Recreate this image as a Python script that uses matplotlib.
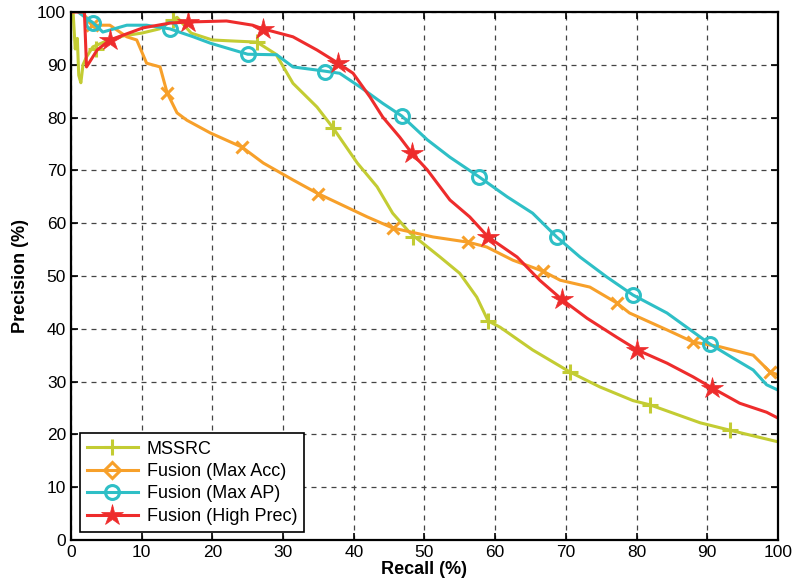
import numpy as np
import matplotlib
matplotlib.use('Agg')
import matplotlib.pyplot as plt
from matplotlib.lines import Line2D

plt.rcParams['font.family'] = ['Liberation Sans', 'DejaVu Sans']

# MSSRC
mssrc_x = [0.3, 0.6, 0.9, 1.1, 1.4, 1.7, 2.2, 3.1, 5.0, 7.5, 10.0, 12.5, 15.0, 17.0, 20.0, 23.0, 26.3,
           29.0, 31.4, 34.8, 37.1, 40.5, 43.3, 45.5, 48.0, 52.2, 55.0, 57.4, 59.0, 60.7, 65.3,
           70.6, 74.8, 79.5, 81.9, 89.0, 93.2, 100.0]
mssrc_y = [100.0, 93.0, 95.0, 88.0, 86.6, 90.0, 91.5, 93.4, 94.5, 95.5, 96.0, 96.8, 99.0, 96.0, 94.7, 94.5,
           94.3, 92.0, 86.5, 82.0, 78.0, 71.4, 66.9, 61.9, 58.1, 53.6, 50.5, 46.0, 41.5, 40.3, 36.0,
           31.8, 29.0, 26.4, 25.6, 22.2, 20.8, 18.6]
mssrc_mx = [3.5, 14.5, 26.3, 37.1, 48.4, 59.0, 70.6, 81.9, 93.2]
mssrc_my = [93.0, 98.5, 94.3, 78.0, 57.4, 41.5, 31.8, 25.6, 20.8]

# Fusion (Max Acc)
acc_x = [1.5, 2.5, 3.0, 5.5, 7.9, 9.3, 10.7, 12.6, 13.6, 15.0, 16.4, 19.7, 24.2, 27.2, 31.4, 34.8,
         41.9, 45.5, 51.2, 56.2, 58.8, 62.5, 66.8, 69.2, 73.4, 77.2, 79.0, 84.3, 88.0, 91.8,
         96.5, 98.9, 100.0]
acc_y = [100.0, 98.5, 97.5, 97.5, 95.3, 94.7, 90.3, 89.6, 84.7, 80.9, 79.5, 77.1, 74.4, 71.4, 68.2, 65.7,
         61.2, 59.1, 57.4, 56.4, 55.5, 53.0, 50.9, 49.2, 47.9, 44.9, 43.0, 39.8, 37.5, 36.6,
         35.0, 31.8, 31.3]
acc_mx = [3.0, 13.6, 24.2, 35.0, 45.5, 56.2, 66.7, 77.2, 88.0, 98.9]
acc_my = [97.5, 84.7, 74.4, 65.6, 59.1, 56.4, 51.0, 44.9, 37.5, 31.8]

# Fusion (Max AP)
ap_x = [1.0, 2.0, 3.1, 4.5, 7.9, 10.7, 14.0, 17.3, 19.7, 25.0, 29.1, 31.4, 34.8, 38.0, 40.9, 44.1,
        46.8, 50.4, 53.6, 57.7, 61.7, 65.3, 68.7, 72.0, 75.8, 79.5, 84.3, 90.4, 93.6, 96.5,
        98.4, 100.0]
ap_y = [100.0, 99.0, 98.0, 96.2, 97.5, 97.5, 96.8, 95.3, 94.1, 92.0, 91.9, 89.6, 89.0, 88.4, 85.8, 82.7,
        80.3, 75.8, 72.5, 68.8, 65.0, 61.9, 57.4, 53.6, 49.8, 46.4, 43.0, 37.1, 34.5, 32.2,
        29.4, 28.4]
ap_mx = [3.1, 14.0, 25.0, 35.9, 46.8, 57.7, 68.7, 79.5, 90.4]
ap_my = [98.0, 96.8, 92.0, 88.6, 80.3, 68.8, 57.4, 46.4, 37.1]

# Fusion (High Prec)
hp_x = [0.3, 1.9, 2.2, 3.7, 5.5, 10.2, 14.0, 16.5, 22.0, 25.7, 27.2, 31.4, 34.8, 37.8, 39.9, 42.3,
        44.1, 46.5, 48.2, 50.4, 53.6, 56.4, 59.0, 63.1, 66.3, 69.4, 73.0, 77.2, 80.1, 84.3,
        88.0, 90.7, 94.6, 98.4, 100.0]
hp_y = [100.0, 100.0, 89.6, 92.8, 94.7, 97.0, 97.9, 98.1, 98.3, 97.5, 96.8, 95.3, 92.8, 90.3, 88.4, 83.9,
        80.1, 76.3, 73.3, 70.1, 64.4, 61.2, 57.4, 53.6, 49.2, 45.6, 42.0, 38.4, 36.0, 33.5,
        30.9, 28.8, 25.9, 24.2, 23.1]
hp_mx = [5.5, 16.5, 27.2, 37.8, 48.2, 59.0, 69.4, 80.1, 90.7]
hp_my = [94.7, 98.1, 96.8, 90.3, 73.3, 57.4, 45.6, 36.0, 28.8]

c_mssrc = '#c3cc33'
c_acc = '#f7a02a'
c_ap = '#2ebfc6'
c_hp = '#ee2c2c'

fig = plt.figure(figsize=(7.93, 5.88), dpi=100)
ax = fig.add_axes([0.0895, 0.0816, 0.8915, 0.898])

ax.plot(mssrc_x, mssrc_y, '-', color=c_mssrc, lw=2.2)
ax.plot(mssrc_mx, mssrc_my, '+', color=c_mssrc, ms=11, mew=2.2)
ax.plot(acc_x, acc_y, '-', color=c_acc, lw=2.2)
ax.plot(acc_mx, acc_my, 'x', color=c_acc, ms=8, mew=2.2)
ax.plot(ap_x, ap_y, '-', color=c_ap, lw=2.2)
ax.plot(ap_mx, ap_my, 'o', color=c_ap, ms=10, mew=2.2, mfc='none')
ax.plot(hp_x, hp_y, '-', color=c_hp, lw=2.2)
ax.plot(hp_mx, hp_my, '*', color=c_hp, ms=16, mew=0.5)

ax.set_xlim(0, 100)
ax.set_ylim(0, 100)
ax.set_xticks(np.arange(0, 101, 10))
ax.set_yticks(np.arange(0, 101, 10))
ax.tick_params(direction='in', top=True, right=True, labelsize=12.5, length=5, width=1.2)
ax.grid(True, linestyle=(0, (4, 4)), color='#444444', lw=0.9)
for s in ax.spines.values():
    s.set_linewidth(1.6)
ax.set_xlabel('Recall (%)', fontsize=13, fontweight='bold', labelpad=1)
ax.set_ylabel('Precision (%)', fontsize=13, fontweight='bold', labelpad=6)

handles = [
    Line2D([], [], color=c_mssrc, lw=2.2, marker='+', ms=11, mew=2.2),
    Line2D([], [], color=c_acc, lw=2.2, marker='D', ms=8, mew=2.2, mfc='none'),
    Line2D([], [], color=c_ap, lw=2.2, marker='o', ms=10, mew=2.2, mfc='none'),
    Line2D([], [], color=c_hp, lw=2.2, marker='*', ms=16, mew=0.5),
]
labels = ['MSSRC', 'Fusion (Max Acc)', 'Fusion (Max AP)', 'Fusion (High Prec)']
leg = ax.legend(handles, labels, loc='lower left', bbox_to_anchor=(0.0127, 0.015),
                borderaxespad=0, fontsize=13, fancybox=False, framealpha=1, edgecolor='black',
                handlelength=2.8, borderpad=0.4, labelspacing=0.3, handletextpad=0.5)
leg.get_frame().set_linewidth(1.2)

fig.savefig('out.png', dpi=100)
